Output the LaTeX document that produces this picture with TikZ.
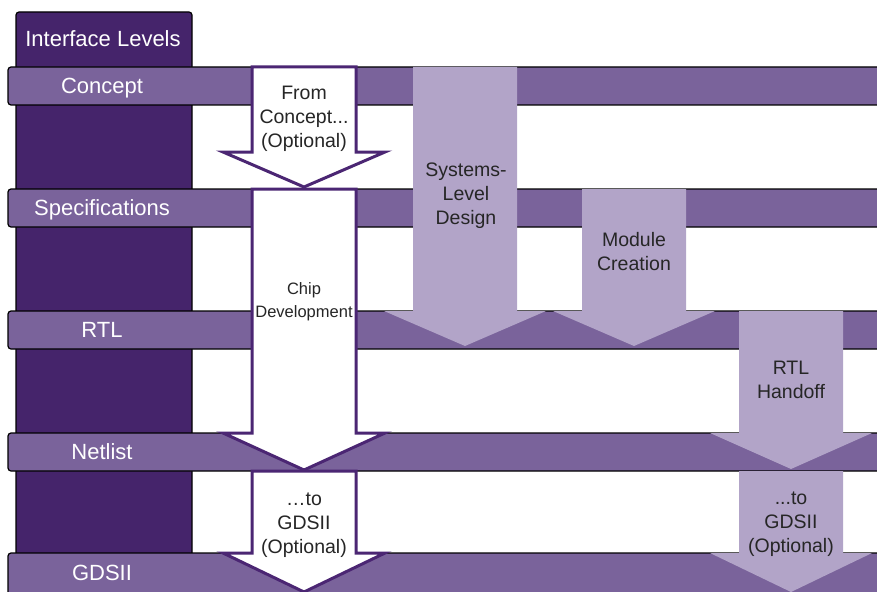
\documentclass[tikz,border=0pt]{standalone}
\usepackage{fontspec}
\setmainfont{Liberation Sans}
\usetikzlibrary{positioning}
\definecolor{levelcol}{RGB}{69,36,107}
\definecolor{barcol}{RGB}{122,99,155}
\definecolor{flowcol}{RGB}{178,164,200}
\definecolor{edgecol}{RGB}{75,38,115}
\tikzset{%
  % column, bars and arrows
  column/.style = {fill=levelcol, draw=black, line width=1.2pt, rounded corners=3pt},
  levelbar/.style = {fill=barcol, draw=black, line width=1.2pt, rounded corners=3pt},
  chiparrow/.style = {fill=white, draw=edgecol, line width=3pt, line join=miter},
  flowarrow/.style = {fill=flowcol, draw=none},
  % texts
  levellabel/.style = {text=white, inner sep=0pt, anchor=base, font=\fontsize{22}{26}\selectfont},
  arrowlabel/.style = {text=black!85, align=center, inner sep=0pt, font=\fontsize{19.5}{24}\selectfont}
}
% block arrow: style, x centre, top, start of head, tip
\newcommand{\blockarrow}[5]{%
  \draw[#1] ({#2-52},#3) -- ({#2+52},#3) -- ({#2+52},#4) -- ({#2+81},#4)
    -- (#2,#5) -- ({#2-81},#4) -- ({#2-52},#4) -- cycle;}

\begin{document}
\begin{tikzpicture}[x=1pt, y=-1pt]
\useasboundingbox (0,0) rectangle (877,591);
\clip (0,0) rectangle (877,591);
% interface levels column
\draw[column] (16,12) rectangle (192,610);
\node[levellabel] (levels) at (103,47) {Interface Levels};
% level bars
\draw[levelbar] (8,67) rectangle (900,105);
\draw[levelbar] (8,189) rectangle (900,227);
\draw[levelbar] (8,311) rectangle (900,349);
\draw[levelbar] (8,433) rectangle (900,471);
\draw[levelbar] (8,553) rectangle (900,610);
\node[levellabel] (concept) at (102,94) {Concept};
\node[levellabel] (specs) at (102,215.5) {Specifications};
\node[levellabel] (rtl) at (102,337.5) {RTL};
\node[levellabel] (netlist) at (102,459.5) {Netlist};
\node[levellabel] (gdsii) at (102,580.5) {GDSII};
% design flow arrows
\blockarrow{flowarrow}{465}{67}{311}{346}
\blockarrow{flowarrow}{634}{189}{311}{346}
\blockarrow{flowarrow}{791}{311}{433}{469}
\blockarrow{flowarrow}{791}{471}{553}{592}
% chip arrows
\blockarrow{chiparrow}{304}{67}{152}{187}
\blockarrow{chiparrow}{304}{189}{433}{470}
\blockarrow{chiparrow}{304}{471}{553}{592}
% arrow texts
\node[arrowlabel] (fromconcept) at (304,119) {From\\Concept...\\(Optional)};
\node[arrowlabel, font=\fontsize{16.5}{23}\selectfont] (chipdev) at (304,302) {Chip\\Development};
\node[arrowlabel] (togdsii) at (304,525) {…to\\GDSII\\(Optional)};
\node[arrowlabel] (systems) at (466,195.5) {Systems-\\Level\\Design};
\node[arrowlabel] (module) at (634,252) {Module\\Creation};
\node[arrowlabel] (handoff) at (791,380) {RTL\\Handoff};
\node[arrowlabel] (flowgdsii) at (791,524.5) {...to\\GDSII\\(Optional)};
\end{tikzpicture}
\end{document}
